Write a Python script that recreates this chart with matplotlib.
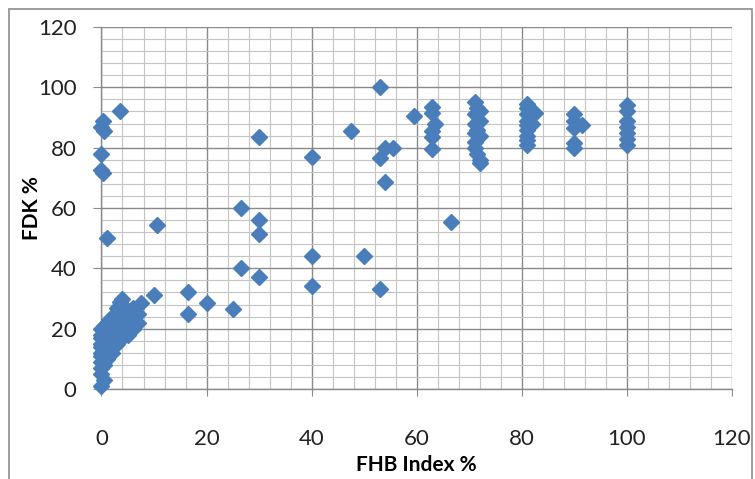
import numpy as np
import matplotlib.pyplot as plt
from matplotlib.ticker import MultipleLocator
from matplotlib.patches import Rectangle

plt.rcParams['font.family'] = ['Lato', 'DejaVu Sans']

# --- data ---
# dense cluster near the origin
fhb_low = [0, 0, 0, 0, 0, 0, 0, 0, 0, 0, 0,
           0.5, 0.5, 0.5, 0.5, 0.5, 0.5, 0.5,
           1, 1, 1, 1, 1, 1, 1,
           1.5, 1.5, 1.5, 1.5, 1.5, 1.5,
           2, 2, 2, 2, 2, 2,
           3, 3, 3, 3, 3, 3, 3,
           3.5, 3.5, 3.5, 3.5,
           4, 4, 4, 4, 4,
           5, 5, 5, 5,
           6, 6, 6, 6,
           7, 7, 7.5]
fdk_low = [1, 5, 7, 9, 11, 12, 14, 15, 17, 18, 20,
           3, 8, 10, 13, 16, 19, 21,
           10, 12, 14, 16, 18, 20, 22,
           13, 15, 17, 19, 21, 23,
           12, 14, 17, 19, 22, 24,
           15, 17, 19, 21, 23, 25, 27,
           18, 22, 26, 29,
           17, 20, 24, 28, 30,
           18, 21, 23, 26,
           20, 23, 25, 27,
           22, 25, 28.5]

# scattered points
fhb_mid = [0.3, 0, 0.5, 0, 0, 0.2, 3.5, 1,
           10.5, 10, 16.5, 16.5, 20, 25, 26.5, 26.5, 30, 30, 30, 30,
           40, 40, 40, 47.5, 50, 53, 53, 53, 54, 54, 55.5, 59.5, 66.5]
fdk_mid = [89, 87, 85.5, 78, 72.5, 71.5, 92, 50,
           54.5, 31, 32, 25, 28.5, 26.5, 60, 40, 83.5, 56, 51.5, 37,
           77, 44, 34, 85.5, 44, 100, 76.5, 33, 68.5, 80, 80, 90.5, 55.5]

# vertical groups at high FHB index
fhb_high = [63, 63, 63, 63, 63, 63.5,
            71, 71.5, 72, 71, 72, 71, 71.5, 71, 72, 71, 71, 71.5, 72, 72,
            81, 81, 81, 81, 81, 81, 81, 81, 81, 82.5, 82,
            90, 90, 90, 90, 90, 91.5,
            100, 100, 100, 100, 100, 100, 100]
fdk_high = [93.5, 91.5, 85.5, 83.5, 79.5, 88,
            95, 93, 92, 91, 89, 88, 86, 85, 84, 82, 80, 78, 76, 75,
            94.5, 93, 91, 89, 87.5, 86, 84, 82.5, 81, 91.5, 88,
            91, 89, 86.5, 81.5, 80, 87.5,
            94, 92, 89, 87, 85, 83, 81]

fhb = fhb_low + fhb_mid + fhb_high
fdk = fdk_low + fdk_mid + fdk_high

fig = plt.figure(figsize=(7.55, 4.79), dpi=100)
ax = fig.add_axes([0.1344, 0.1879, 0.8351, 0.7557])

# outer chart frame
fig.patches.append(Rectangle((9 / 755, -0.01), 743 / 755, 1 - 9 / 479 + 0.01,
                             transform=fig.transFigure, fill=False,
                             edgecolor='#8c8c8c', linewidth=1.2))

ax.plot(fhb, fdk, linestyle='none', marker='D', markersize=8.6,
        color='#4a7ebb', markeredgecolor='#4a7ebb', zorder=3, clip_on=False)

ax.set_xlim(0, 120)
ax.set_ylim(0, 120)
ax.xaxis.set_major_locator(MultipleLocator(20))
ax.yaxis.set_major_locator(MultipleLocator(20))
ax.xaxis.set_minor_locator(MultipleLocator(4))
ax.yaxis.set_minor_locator(MultipleLocator(4))

ax.grid(which='major', color='#8a8a8a', linewidth=1.0)
ax.grid(which='minor', color='#c4c4c4', linewidth=0.8)
ax.set_axisbelow(True)

for side in ['top', 'right']:
    ax.spines[side].set_visible(False)
for side in ['left', 'bottom']:
    ax.spines[side].set_color('#8a8a8a')
    ax.spines[side].set_linewidth(1.0)

ax.tick_params(which='minor', length=0)
ax.tick_params(axis='x', which='major', direction='out', length=5,
               color='#8a8a8a', pad=24, labelsize=16, labelcolor='#222222')
ax.tick_params(axis='y', which='major', direction='out', length=6,
               color='#8a8a8a', pad=12, labelsize=16, labelcolor='#222222')

ax.set_xlabel('FHB Index %', fontsize=15, fontweight='bold', labelpad=4)
ax.set_ylabel('FDK %', fontsize=15, fontweight='bold', labelpad=-3)

fig.savefig('out.png', dpi=100)
